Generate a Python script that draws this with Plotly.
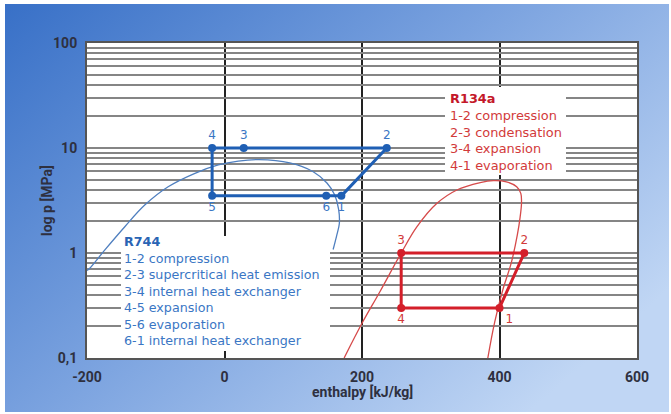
import base64
import plotly.graph_objects as go

# ---------------- data ----------------
# R744 (CO2) cycle, states 1..6
r744_state = ["1", "2", "3", "4", "5", "6"]
r744_h = [170, 236, 28, -18, -18, 148]
r744_p = [3.5, 10, 10, 10, 3.5, 3.5]
r744_labelpos = ["bottom center", "top center", "top center", "top center", "bottom center", "bottom center"]

# R744 saturation dome
dome744_h = [-200, -196, -174, -145, -116, -82, -43, -9, 20, 50, 95, 129, 149, 160, 166, 167, 163, 158]
dome744_p = [0.68, 0.715, 1.07, 1.78, 2.86, 4.27, 5.74, 6.89, 7.5, 7.75, 7.2, 5.94, 4.64, 3.6, 2.6, 1.9, 1.45, 1.08]

# R134a cycle, states 1..4
r134_state = ["1", "2", "3", "4"]
r134_h = [400, 436, 257, 257]
r134_p = [0.3, 1.0, 1.0, 0.3]
r134_labelpos = ["bottom right", "top center", "top center", "bottom center"]

# R134a saturation dome
dome134_h = [174, 200, 226, 257, 280, 309, 338, 372, 391, 410, 425, 431, 432, 430, 426, 417, 405, 393, 383]
dome134_p = [0.1, 0.214, 0.428, 1.0, 1.78, 2.97, 3.98, 4.68, 4.89, 4.77, 4.27, 3.7, 3.0, 2.2, 1.5, 0.8, 0.45, 0.22, 0.1]

# legends
r744_title = "R744"
r744_steps = ["1-2 compression", "2-3 supercritical heat emission", "3-4 internal heat exchanger",
              "4-5 expansion", "5-6 evaporation", "6-1 internal heat exchanger"]
r134_title = "R134a"
r134_steps = ["1-2 compression", "2-3 condensation", "3-4 expansion", "4-1 evaporation"]

# axes
x_ticks = [-200, 0, 200, 400, 600]
decades = [0.1, 1, 10, 100]
decade_labels = ["0,1", "1", "10", "100"]
x_title = "enthalpy [kJ/kg]"
y_title = "log p [MPa]"

# ---------------- styling ----------------
BLUE_LINE = "#1f5fb4"
BLUE_THIN = "#4f7fbf"
BLUE_TEXT = "#3a76c4"
BLUE_HEAD = "#2a64b4"
RED_LINE = "#d41f2a"
RED_THIN = "#d64a4a"
RED_TEXT = "#d23a3a"
RED_HEAD = "#c4182a"
FONT = "DejaVu Sans"
AXFONT = "Roboto"

y_tickvals, y_ticktext = [], []
for i, d in enumerate(decades[:-1]):
    for m in range(1, 10):
        y_tickvals.append(round(d * m, 6))
        y_ticktext.append(decade_labels[i] if m == 1 else "")
y_tickvals.append(decades[-1])
y_ticktext.append(decade_labels[-1])

fig = go.Figure()

fig.add_trace(go.Scatter(x=dome744_h, y=dome744_p, mode="lines",
                         line=dict(color=BLUE_THIN, width=1.3, shape="spline"), hoverinfo="skip"))
fig.add_trace(go.Scatter(x=dome134_h, y=dome134_p, mode="lines",
                         line=dict(color=RED_THIN, width=1.3, shape="spline"), hoverinfo="skip"))

fig.add_trace(go.Scatter(x=r744_h + r744_h[:1], y=r744_p + r744_p[:1], mode="lines",
                         line=dict(color=BLUE_LINE, width=3)))
fig.add_trace(go.Scatter(x=r744_h, y=r744_p, mode="markers+text", text=r744_state,
                         textposition=r744_labelpos,
                         textfont=dict(family=FONT, size=12, color=BLUE_TEXT),
                         marker=dict(color=BLUE_LINE, size=8)))

fig.add_trace(go.Scatter(x=r134_h + r134_h[:1], y=r134_p + r134_p[:1], mode="lines",
                         line=dict(color=RED_LINE, width=3)))
fig.add_trace(go.Scatter(x=r134_h, y=r134_p, mode="markers+text", text=r134_state,
                         textposition=r134_labelpos,
                         textfont=dict(family=FONT, size=12, color=RED_TEXT),
                         marker=dict(color=RED_LINE, size=8)))

# ---------------- layout geometry (pixels) ----------------
W, H = 671, 414
L, R, T, B = 87, 34, 43, 56
pw, ph = W - L - R, H - T - B


def px_x(px):
    return (px - L) / pw


def px_y(py):
    return (H - B - py) / ph


# background gradient as svg image
svg = ('<svg xmlns="http://www.w3.org/2000/svg" width="664" height="408" preserveAspectRatio="none">'
       '<defs><linearGradient id="g" x1="0" y1="0" x2="1" y2="0.7">'
       '<stop offset="0" stop-color="#3870c7"/>'
       '<stop offset="0.5" stop-color="#7aa2df"/>'
       '<stop offset="1" stop-color="#c0d6f4"/>'
       '</linearGradient></defs><rect width="664" height="408" fill="url(#g)"/></svg>')
uri = "data:image/svg+xml;base64," + base64.b64encode(svg.encode()).decode()
fig.add_layout_image(dict(source=uri, xref="paper", yref="paper",
                          x=px_x(5), y=px_y(4), sizex=664 / pw, sizey=408 / ph,
                          xanchor="left", yanchor="top", sizing="stretch", layer="below"))
fig.add_shape(type="rect", xref="paper", yref="paper", x0=0, x1=1, y0=0, y1=1,
              fillcolor="white", line=dict(width=0), layer="below")

# legend boxes (white background covering grid)
boxes = [
    dict(x0=121, x1=330, y0=236, y1=351, tx=122.5, cy=290.5, size=12.7,
         title=r744_title, lines=r744_steps, col=BLUE_TEXT, head=BLUE_HEAD),
    dict(x0=445, x1=566, y0=87, y1=175, tx=449, cy=132.3, size=12.9,
         title=r134_title, lines=r134_steps, col=RED_TEXT, head=RED_HEAD),
]
for bx in boxes:
    fig.add_shape(type="rect", xref="paper", yref="paper",
                  x0=px_x(bx["x0"]), x1=px_x(bx["x1"]), y0=px_y(bx["y1"]), y1=px_y(bx["y0"]),
                  fillcolor="white", line=dict(width=0), layer="above")
    text = "<b><span style='color:%s'>%s</span></b><br>" % (bx["head"], bx["title"]) + "<br>".join(bx["lines"])
    fig.add_annotation(text=text, xref="paper", yref="paper",
                       x=px_x(bx["tx"]), y=px_y(bx["cy"]), align="left",
                       xanchor="left", yanchor="middle", showarrow=False, borderpad=0,
                       font=dict(family=FONT, size=bx["size"], color=bx["col"]))

# axis titles
axis_font = dict(family=AXFONT, size=14, color="#2e3040", weight="bold")
fig.add_annotation(text=x_title, xref="paper", yref="paper", x=px_x(362), y=px_y(392),
                   xanchor="center", yanchor="middle", showarrow=False, font=axis_font)
fig.add_annotation(text=y_title, xref="paper", yref="paper", x=px_x(47), y=px_y(201),
                   xanchor="center", yanchor="middle", textangle=-90, showarrow=False,
                   font=axis_font)

fig.update_xaxes(range=[-200, 600], tickvals=x_ticks, ticktext=[str(v) for v in x_ticks],
                 showgrid=True, gridcolor="#222222", gridwidth=2, zeroline=False,
                 showline=True, linecolor="#555555", linewidth=2, mirror=True,
                 ticks="outside", ticklen=5, tickcolor="rgba(0,0,0,0)",
                 tickfont=axis_font)
fig.update_yaxes(type="log", range=[-1, 2], tickvals=y_tickvals, ticktext=y_ticktext,
                 showgrid=True, gridcolor="#858585", gridwidth=2, zeroline=False,
                 showline=True, linecolor="#555555", linewidth=2, mirror=True,
                 ticks="outside", ticklen=5, tickcolor="rgba(0,0,0,0)",
                 tickfont=axis_font)

fig.update_layout(width=W, height=H, margin=dict(l=L, r=R, t=T, b=B, autoexpand=False),
                  paper_bgcolor="white", plot_bgcolor="white", showlegend=False,
                  font=dict(family=FONT))

fig.write_html("out.html", config={"displayModeBar": False},
               post_script="document.body.style.margin='0';document.body.style.padding='0';")
